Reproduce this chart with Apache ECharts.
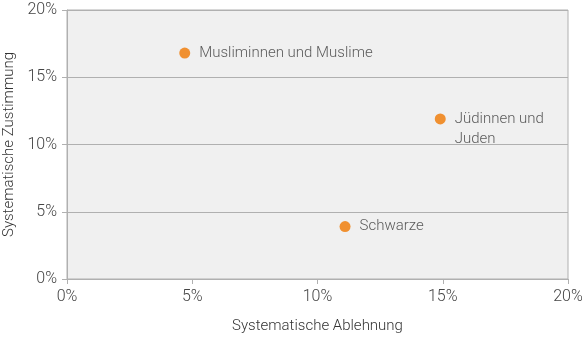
<!DOCTYPE html>
<html>
<head>
<meta charset="utf-8">
<script src="https://cdn.jsdelivr.net/npm/echarts@6/dist/echarts.min.js"></script>
<style>
  html, body { margin: 0; padding: 0; background: #fff; }
  #chart { width: 582px; height: 342px; }
</style>
</head>
<body>
<div id="chart"></div>
<script>
const groups = ["Musliminnen und Muslime", "Jüdinnen und\nJuden", "Schwarze"];
const ablehnung = [4.7, 14.9, 11.1];
const zustimmung = [16.8, 11.9, 3.9];
const ticks = [0, 5, 10, 15, 20];

const chart = echarts.init(document.getElementById("chart"));

const axisText = { color: "#444", fontSize: 16, fontFamily: "Roboto", fontWeight: 300 };

chart.setOption({
  animation: false,
  grid: {
    left: 67, right: 14, top: 10, bottom: 63,
    outerBoundsMode: "none",
    containLabel: false,
    show: true,
    backgroundColor: "#f0f0f0",
    borderColor: "#b0b0b0",
    borderWidth: 1
  },
  xAxis: {
    type: "value",
    min: ticks[0], max: ticks[ticks.length - 1], interval: 5,
    name: "Systematische Ablehnung",
    nameLocation: "middle",
    nameGap: 40,
    nameTextStyle: { color: "#333", fontSize: 15, fontFamily: "Roboto", fontWeight: 300 },
    axisLine: { show: true, lineStyle: { color: "#b0b0b0" } },
    axisTick: { show: true, length: 5, lineStyle: { color: "#b0b0b0" } },
    splitLine: { show: false },
    axisLabel: Object.assign({ margin: 10, formatter: "{value}%" }, axisText)
  },
  yAxis: {
    type: "value",
    min: ticks[0], max: ticks[ticks.length - 1], interval: 5,
    name: "Systematische Zustimmung",
    nameLocation: "middle",
    nameGap: 50,
    nameTextStyle: { color: "#333", fontSize: 15, fontFamily: "Roboto", fontWeight: 300 },
    axisLine: { show: true, lineStyle: { color: "#b0b0b0" } },
    axisTick: { show: true, length: 5, lineStyle: { color: "#b0b0b0" } },
    splitLine: { show: true, lineStyle: { color: "#b0b0b0", width: 1 } },
    axisLabel: Object.assign({ margin: 10, formatter: "{value}%" }, axisText)
  },
  series: [{
    type: "scatter",
    symbolSize: 11,
    itemStyle: { color: "#f07800" },
    label: {
      show: true,
      position: "right",
      distance: 9,
      color: "#333",
      fontSize: 15,
      fontFamily: "Roboto",
      fontWeight: 300,
      lineHeight: 20,
      align: "left",
      verticalAlign: "top",
      offset: [0, -10],
      formatter: p => p.data[2]
    },
    data: groups.map((g, i) => [ablehnung[i], zustimmung[i], g])
  }]
});
</script>
</body>
</html>
